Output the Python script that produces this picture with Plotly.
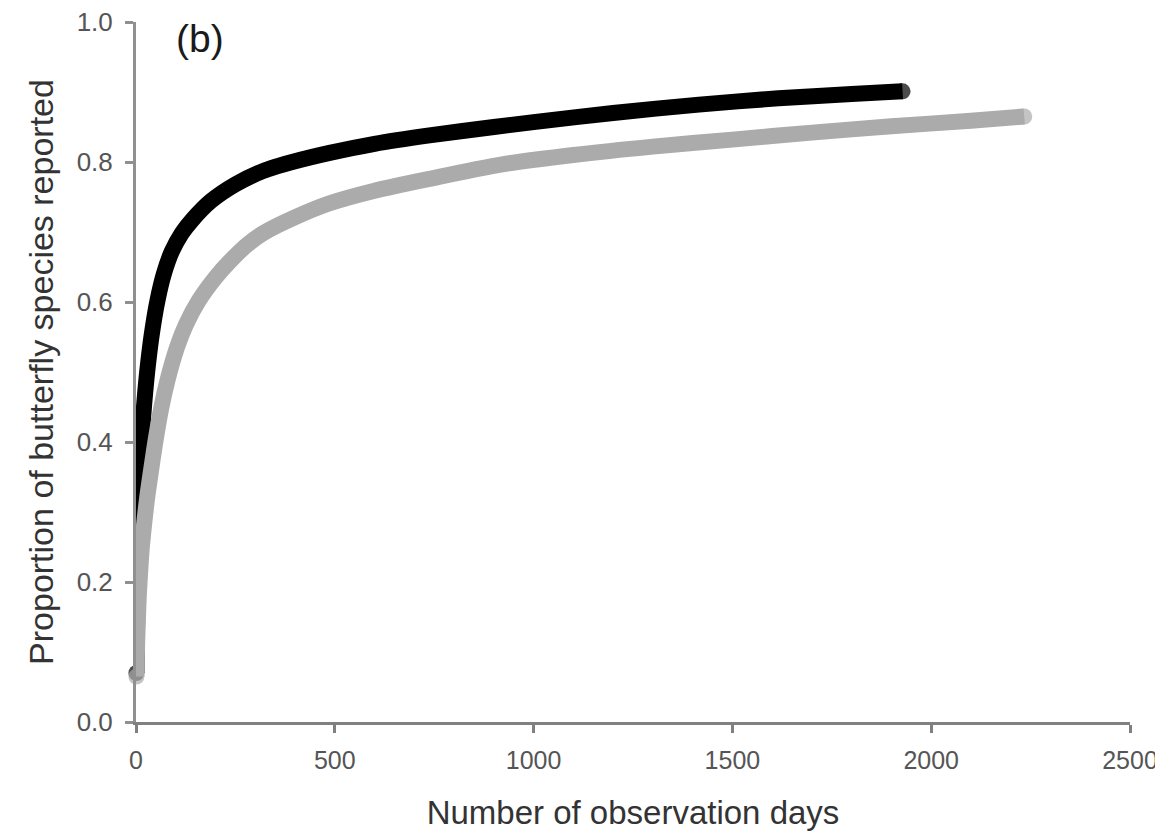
import plotly.graph_objects as go

# Black curve (observation days, proportion of species)
black_days = [1, 2, 3, 4, 5, 6, 8, 10, 14, 18, 23, 30, 40, 54, 70, 90, 115, 141,
              188, 250, 319, 400, 487, 600, 738, 900, 1000, 1200, 1416, 1616, 1800, 1928]
black_prop = [0.07, 0.11, 0.15, 0.19, 0.23, 0.26, 0.31, 0.35, 0.40, 0.435, 0.47, 0.51,
              0.555, 0.602, 0.64, 0.672, 0.698, 0.717, 0.744, 0.768, 0.787, 0.801, 0.813,
              0.826, 0.838, 0.85, 0.857, 0.870, 0.882, 0.891, 0.897, 0.901]

# Grey curve
grey_days = [1, 2, 3, 5, 7, 10, 14, 20, 28, 38, 50, 64, 80, 103, 125, 158, 200, 236,
             280, 319, 400, 487, 600, 738, 914, 1100, 1300, 1500, 1700, 1900, 2100, 2234]
grey_prop = [0.065, 0.09, 0.115, 0.15, 0.18, 0.21, 0.245, 0.28, 0.32, 0.36, 0.405,
             0.45, 0.49, 0.535, 0.567, 0.602, 0.635, 0.658, 0.682, 0.698, 0.721, 0.741,
             0.759, 0.776, 0.796, 0.81, 0.822, 0.832, 0.842, 0.851, 0.859, 0.865]

x_ticks = [0, 500, 1000, 1500, 2000, 2500]
y_ticks = [0.0, 0.2, 0.4, 0.6, 0.8, 1.0]

FONT = "Liberation Sans, Arial, sans-serif"
LW = 16

def end_sizes(n):
    return [LW] + [0] * (n - 2) + [LW]

fig = go.Figure()
fig.add_trace(go.Scatter(
    x=black_days, y=black_prop, mode="lines+markers",
    line=dict(color="#000000", width=LW, shape="spline", smoothing=0.8),
    marker=dict(color="#000000", size=end_sizes(len(black_days)), line=dict(width=0)),
    cliponaxis=False, showlegend=False, hoverinfo="skip"))
fig.add_trace(go.Scatter(
    x=grey_days, y=grey_prop, mode="lines+markers",
    line=dict(color="#ababab", width=LW, shape="spline", smoothing=0.8),
    marker=dict(color="#ababab", size=end_sizes(len(grey_days)), line=dict(width=0)),
    cliponaxis=False, showlegend=False, hoverinfo="skip"))

fig.add_annotation(x=160, y=0.976, xref="x", yref="y", text="(b)", showarrow=False,
                   font=dict(family=FONT, size=39, color="#1a1a1a"))

# page body has an 8px margin, so the figure is sized/offset to compensate
fig.update_layout(
    width=1155, height=830,
    margin=dict(l=128, r=33, t=14, b=116),
    paper_bgcolor="white", plot_bgcolor="white",
    font=dict(family=FONT),
)
fig.update_xaxes(
    range=[0, 2500], tickvals=x_ticks, ticktext=[str(v) for v in x_ticks],
    automargin=False, ticklabeloverflow="allow",
    showgrid=False, zeroline=False, showline=True, linecolor="#808080", linewidth=3,
    ticks="outside", ticklen=8, tickwidth=3, tickcolor="#808080",
    tickfont=dict(family=FONT, size=25, color="#555555"), ticklabelstandoff=6,
    title=dict(text="Number of observation days", standoff=28,
               font=dict(family=FONT, size=33, color="#333333")),
)
fig.update_yaxes(
    range=[0, 1.0], tickvals=y_ticks, ticktext=[f"{v:.1f}" for v in y_ticks],
    automargin=False, ticklabeloverflow="allow",
    showgrid=False, zeroline=False, showline=True, linecolor="#909090", linewidth=3,
    ticks="outside", ticklen=8, tickwidth=3, tickcolor="#909090",
    tickfont=dict(family=FONT, size=26, color="#555555"), ticklabelstandoff=7,
    title=dict(text="Proportion of butterfly species reported", standoff=13,
               font=dict(family=FONT, size=34, color="#333333")),
)

fig.write_html("out.html")
